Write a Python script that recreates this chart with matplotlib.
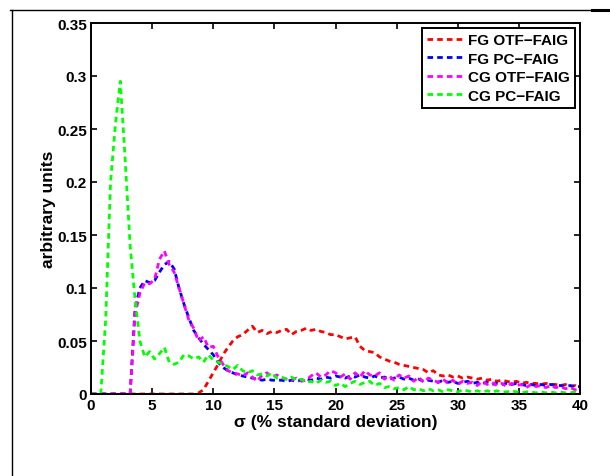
import matplotlib
matplotlib.use("Agg")
import matplotlib.pyplot as plt
from matplotlib.lines import Line2D
import numpy as np

plt.rcParams['font.family'] = ['Liberation Sans', 'DejaVu Sans']
plt.rcParams['font.weight'] = 'bold'

# bin centres, % standard deviation
sigma = np.arange(101) * 0.4

fg_otf = [0, 0, 0, 0, 0, 0, 0, 0, 0, 0,
          0, 0, 0, 0, 0, 0, 0, 0, 0, 0,
          0, 0, 0.001, 0.004, 0.012, 0.02, 0.028, 0.037, 0.044, 0.05,
          0.054, 0.056, 0.06, 0.064, 0.058, 0.06, 0.057, 0.059, 0.058, 0.06,
          0.061, 0.056, 0.059, 0.06, 0.062, 0.06, 0.061, 0.059, 0.058, 0.056,
          0.056, 0.054, 0.052, 0.053, 0.054, 0.045, 0.041, 0.04, 0.039, 0.035,
          0.033, 0.031, 0.03, 0.028, 0.027, 0.026, 0.025, 0.024, 0.023, 0.02,
          0.022, 0.018, 0.017, 0.018, 0.016, 0.017, 0.015, 0.016, 0.015, 0.014,
          0.015, 0.013, 0.014, 0.012, 0.013, 0.012, 0.011, 0.012, 0.01, 0.011,
          0.01, 0.01, 0.009, 0.01, 0.009, 0.009, 0.008, 0.009, 0.007, 0.008,
          0.005]

fg_pc = [0, 0, 0, 0, 0, 0, 0, 0, 0, 0.08,
         0.1, 0.107, 0.105, 0.107, 0.115, 0.122, 0.125, 0.118, 0.1, 0.085,
         0.072, 0.06, 0.053, 0.047, 0.042, 0.037, 0.03, 0.025, 0.022, 0.02,
         0.018, 0.017, 0.016, 0.015, 0.014, 0.013, 0.014, 0.013, 0.013, 0.013,
         0.012, 0.013, 0.012, 0.013, 0.014, 0.013, 0.015, 0.014, 0.016, 0.015,
         0.017, 0.016, 0.015, 0.017, 0.016, 0.018, 0.016, 0.015, 0.017, 0.015,
         0.016, 0.014, 0.015, 0.016, 0.014, 0.015, 0.013, 0.014, 0.012, 0.013,
         0.012, 0.011, 0.013, 0.011, 0.012, 0.01, 0.011, 0.012, 0.01, 0.011,
         0.01, 0.011, 0.009, 0.01, 0.009, 0.01, 0.009, 0.01, 0.009, 0.008,
         0.009, 0.008, 0.009, 0.008, 0.009, 0.008, 0.008, 0.007, 0.008, 0.007,
         0.007]

cg_otf = [0, 0, 0, 0, 0, 0, 0, 0, 0, 0.075,
          0.095, 0.105, 0.104, 0.108, 0.127, 0.135, 0.122, 0.115, 0.1, 0.085,
          0.07, 0.062, 0.05, 0.054, 0.044, 0.045, 0.035, 0.028, 0.022, 0.02,
          0.019, 0.017, 0.02, 0.016, 0.012, 0.018, 0.02, 0.016, 0.018, 0.015,
          0.014, 0.013, 0.015, 0.012, 0.013, 0.017, 0.02, 0.016, 0.018, 0.022,
          0.02, 0.016, 0.019, 0.014, 0.02, 0.016, 0.022, 0.018, 0.017, 0.02,
          0.014, 0.017, 0.013, 0.018, 0.015, 0.017, 0.012, 0.016, 0.011, 0.015,
          0.013, 0.011, 0.014, 0.01, 0.013, 0.009, 0.012, 0.01, 0.011, 0.008,
          0.012, 0.009, 0.011, 0.008, 0.01, 0.007, 0.01, 0.008, 0.009, 0.006,
          0.009, 0.007, 0.008, 0.006, 0.008, 0.006, 0.007, 0.005, 0.006, 0.004,
          0.004]

cg_pc = [0, 0, 0, 0.07, 0.2, 0.255, 0.295, 0.22, 0.14, 0.09,
         0.05, 0.035, 0.04, 0.033, 0.038, 0.044, 0.03, 0.028, 0.03, 0.037,
         0.036, 0.033, 0.035, 0.03, 0.037, 0.032, 0.03, 0.028, 0.026, 0.023,
         0.027, 0.022, 0.02, 0.022, 0.018, 0.019, 0.017, 0.02, 0.015, 0.016,
         0.014, 0.016, 0.013, 0.014, 0.011, 0.012, 0.01, 0.013, 0.011, 0.012,
         0.008, 0.01, 0.007, 0.01, 0.012, 0.009, 0.011, 0.012, 0.008, 0.01,
         0.006, 0.007, 0.005, 0.006, 0.004, 0.007, 0.004, 0.005, 0.003, 0.005,
         0.003, 0.004, 0.002, 0.004, 0.003, 0.002, 0.004, 0.003, 0.002, 0.003,
         0.002, 0.003, 0.002, 0.003, 0.002, 0.002, 0.003, 0.002, 0.001, 0.002,
         0.002, 0.001, 0.002, 0.001, 0.002, 0.001, 0.002, 0.001, 0.001, 0.002,
         0.001]

labels = ['FG OTF\u2212FAIG', 'FG PC\u2212FAIG', 'CG OTF\u2212FAIG', 'CG PC\u2212FAIG']
colors = ['#ff0000', '#0000ff', '#ff00ff', '#00ff00']

fig = plt.figure(figsize=(6.1, 4.77), dpi=100)
ax = fig.add_axes([91 / 610, 82 / 477, 489 / 610, 371 / 477])

for ys, lab, c in zip([fg_otf, fg_pc, cg_otf, cg_pc], labels, colors):
    ax.plot(sigma, ys, color=c, lw=2.0, dashes=(2.0, 1.5), label=lab)

ax.set_xlim(0, 40)
ax.set_ylim(0, 0.35)
ax.set_xticks(range(0, 41, 5))
ax.set_yticks([0, 0.05, 0.1, 0.15, 0.2, 0.25, 0.3, 0.35])
ax.set_yticklabels(['0', '0.05', '0.1', '0.15', '0.2', '0.25', '0.3', '0.35'])
ax.tick_params(direction='in', length=4, width=1.2, top=True, right=True,
               labelsize=11, pad=3)
for lbl in ax.get_xticklabels() + ax.get_yticklabels():
    lbl.set_fontweight('bold')
for sp in ax.spines.values():
    sp.set_linewidth(1.4)

ax.set_xlabel('\u03c3 (% standard deviation)', fontsize=12.5, fontweight='bold', labelpad=1)
ax.set_ylabel('arbitrary units', fontsize=12.5, fontweight='bold', labelpad=1)

leg = ax.legend(loc='upper right', fontsize=11, handlelength=2.4, handletextpad=0.3,
                borderaxespad=0.3, borderpad=0.35, labelspacing=0.3,
                fancybox=False, framealpha=1, edgecolor='black')
leg.get_frame().set_linewidth(1.4)
for t in leg.get_texts():
    t.set_fontweight('bold')

# page frame lines around the figure
fig.add_artist(Line2D([10 / 610, 592 / 610], [1 - 11 / 477, 1 - 11 / 477],
                      color='black', lw=1.0, transform=fig.transFigure))
fig.add_artist(Line2D([592 / 610, 1.0], [1 - 11 / 477, 1 - 11 / 477],
                      color='black', lw=2.2, transform=fig.transFigure))
fig.add_artist(Line2D([12 / 610, 12 / 610], [0, 1 - 11 / 477],
                      color='black', lw=1.0, transform=fig.transFigure))

fig.savefig('out.png', dpi=100)
